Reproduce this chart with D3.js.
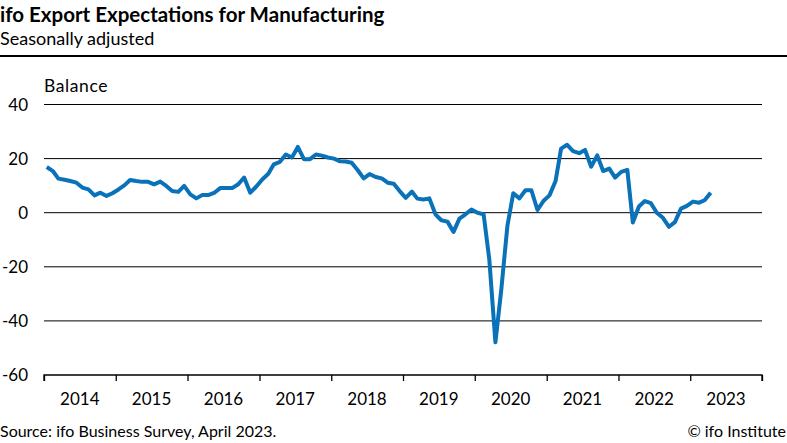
<html>
<head>
<meta charset="utf-8">
<script src="https://d3js.org/d3.v7.min.js"></script>
<style>
  body { margin: 0; background: #fff; }
  svg text { font-family: Lato, "Open Sans", sans-serif; fill: #000; }
</style>
</head>
<body>
<svg id="chart" width="787" height="443"></svg>
<script>
// ifo export expectations, monthly balance, Jan 2014 - Apr 2023
var startYear = 2014;
var values2014 = [16.9, 15.4, 12.6, 12.2, 11.7, 11.1, 9.3, 8.6, 6.4, 7.4, 6.2, 7.2];
var values2015 = [8.6, 10.2, 12.1, 11.7, 11.4, 11.4, 10.5, 11.5, 9.9, 8.0, 7.7, 9.9];
var values2016 = [6.8, 5.3, 6.5, 6.5, 7.3, 9.1, 9.1, 9.1, 10.5, 13.0, 7.4, 9.6];
var values2017 = [12.3, 14.4, 17.9, 18.8, 21.5, 20.4, 24.3, 19.8, 19.8, 21.5, 21.1, 20.4];
var values2018 = [20.0, 19.0, 18.9, 18.5, 15.8, 12.7, 14.3, 13.2, 12.7, 11.1, 10.7, 8.0];
var values2019 = [5.5, 7.8, 5.2, 4.9, 5.3, -0.6, -2.8, -3.3, -7.1, -2.2, -0.6, 1.2];
var values2020 = [0.0, -0.6, -17.3, -47.9, -28.4, -4.9, 7.2, 5.3, 8.3, 8.3, 1.0, 4.3];
var values2021 = [6.4, 11.7, 23.7, 25.1, 22.8, 22.0, 23.2, 17.0, 21.2, 15.4, 16.3, 13.0];
var values2022 = [15.1, 15.8, -3.6, 2.3, 4.3, 3.5, 0.0, -1.9, -5.2, -3.5, 1.5, 2.5];
var values2023 = [4.1, 3.7, 4.6, 7.4];

var yTicks = [40, 20, 0, -20, -40, -60];
var yearLabels = [2014, 2015, 2016, 2017, 2018, 2019, 2020, 2021, 2022, 2023];

var allValues = [].concat(values2014, values2015, values2016, values2017, values2018,
                          values2019, values2020, values2021, values2022, values2023);
var data = allValues.map(function(v, i) {
  return { date: new Date(startYear, i, 15), value: v };
});

var svg = d3.select("#chart");

// -------------------------------------------------
// header
// -------------------------------------------------
svg.append("text").attr("x", 0).attr("y", 22)
  .style("font-size", "20.5px").style("font-weight", "bold")
  .text("ifo Export Expectations for Manufacturing");
svg.append("text").attr("x", 0).attr("y", 45)
  .style("font-size", "18px")
  .text("Seasonally adjusted");
svg.append("line")
  .attr("x1", 0).attr("x2", 787).attr("y1", 56).attr("y2", 56)
  .attr("stroke", "#000").attr("stroke-width", 2);

// -------------------------------------------------
// scales
// -------------------------------------------------
var x = d3.scaleTime()
  .domain([new Date(2014, 0, 1), new Date(2024, 0, 1)])
  .range([44, 762]);

var y = d3.scaleLinear()
  .domain([-60, 40])
  .range([375, 104.5]);

// gridlines
svg.append("g").selectAll("line").data(yTicks.filter(function(d){ return d > -60; }))
  .enter().append("line")
  .attr("x1", 44).attr("x2", 762)
  .attr("y1", function(d){ return y(d); })
  .attr("y2", function(d){ return y(d); })
  .attr("stroke", "#000").attr("stroke-width", 1);

// y tick labels
svg.append("g").selectAll("text").data(yTicks)
  .enter().append("text")
  .attr("x", 28)
  .attr("y", function(d){ return y(d) + 6; })
  .attr("text-anchor", "end")
  .style("font-size", "17px")
  .text(function(d){ return d; });

svg.append("text").attr("x", 44).attr("y", 92)
  .style("font-size", "17.5px").style("letter-spacing", "0.6px")
  .text("Balance");

// x axis
var yearTicks = d3.range(2014, 2025).map(function(yr){ return new Date(yr, 0, 1); });
var axis = d3.axisBottom(x)
  .tickValues(yearTicks)
  .tickSize(6)
  .tickFormat("");

var gx = svg.append("g").attr("transform", "translate(0," + y(-60) + ")").call(axis);
gx.select(".domain").attr("stroke", "#000").attr("stroke-width", 1.3).attr("d", "M44,6V0H762V6");
gx.selectAll(".tick line").attr("stroke", "#000").attr("stroke-width", 1.3);

svg.append("g").selectAll("text").data(yearLabels)
  .enter().append("text")
  .attr("x", function(d){ return x(new Date(d, 6, 2)); })
  .attr("y", 405)
  .attr("text-anchor", "middle")
  .style("font-size", "17px")
  .text(function(d){ return d; });

// -------------------------------------------------
// line
// -------------------------------------------------
var line = d3.line()
  .x(function(d){ return x(d.date); })
  .y(function(d){ return y(d.value); });

svg.append("path").datum(data)
  .attr("d", line)
  .attr("fill", "none")
  .attr("stroke", "#0a72b9")
  .attr("stroke-width", 4)
  .attr("stroke-linejoin", "round");

// -------------------------------------------------
// footer
// -------------------------------------------------
svg.append("text").attr("x", 0).attr("y", 437)
  .style("font-size", "16px")
  .text("Source: ifo Business Survey, April 2023.");
svg.append("text").attr("x", 786).attr("y", 437)
  .attr("text-anchor", "end")
  .style("font-size", "16px")
  .text("© ifo Institute");
</script>
</body>
</html>
